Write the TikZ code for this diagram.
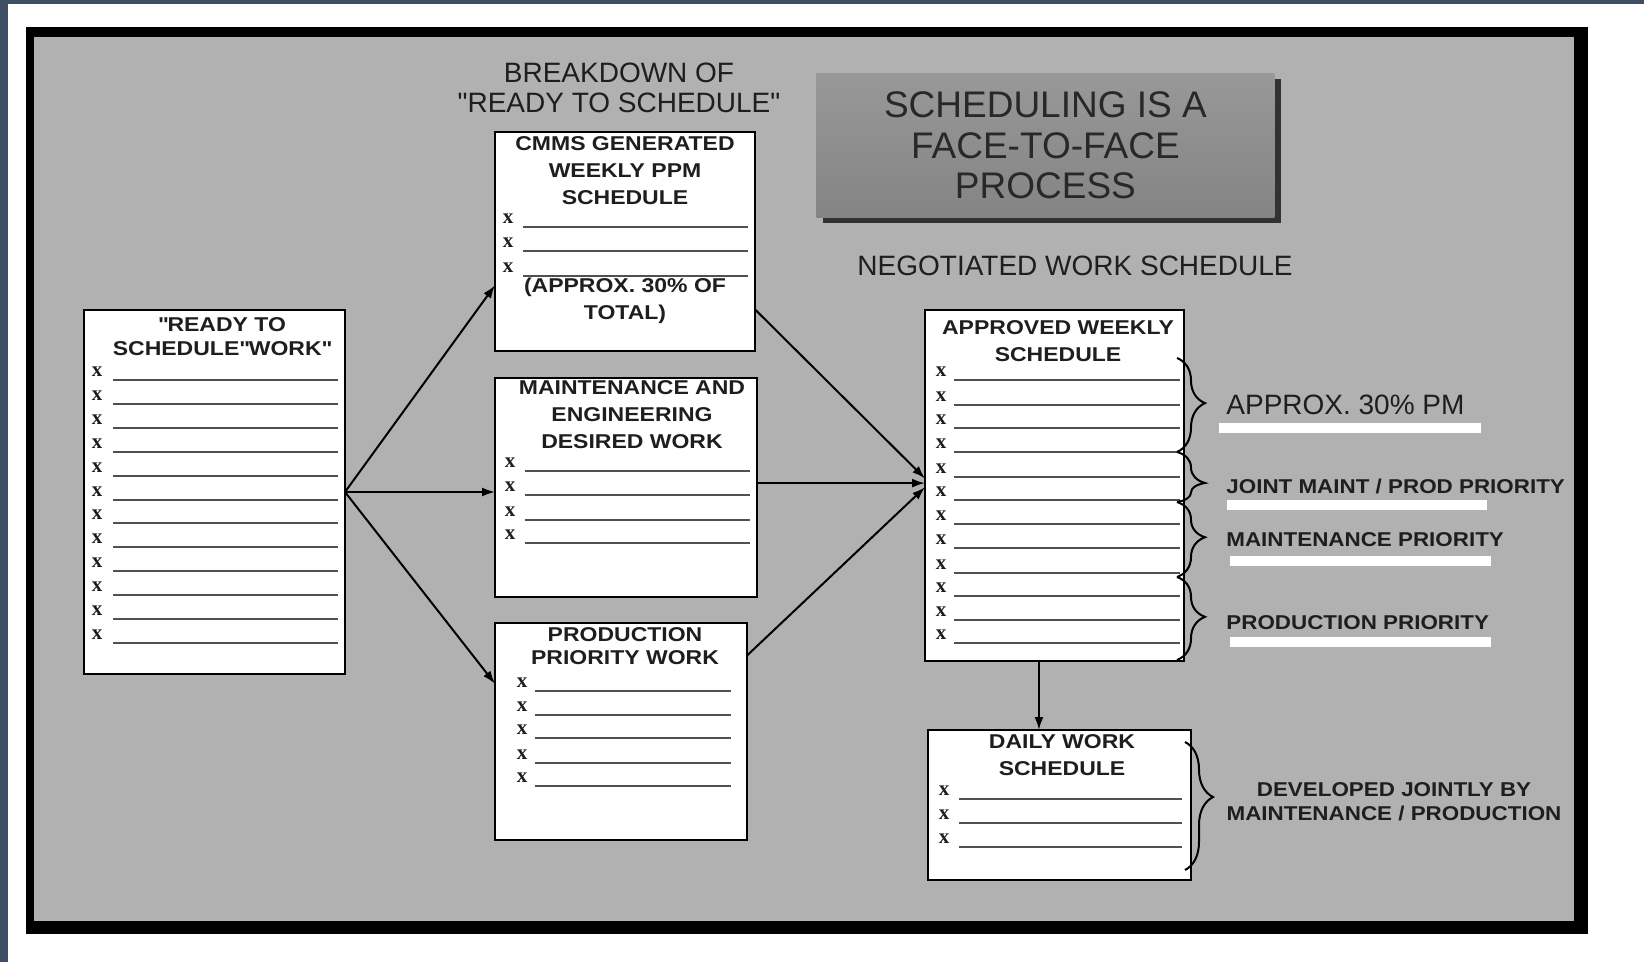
\documentclass[tikz,border=0pt]{standalone}
\usepackage{fontspec}
\setmainfont{Liberation Sans}
\newfontfamily\widefont{Liberation Sans}[FakeStretch=1.15]
\newfontfamily\notefont{Liberation Sans}[FakeStretch=1.12]
\newfontfamily\markfont{Liberation Serif}
\usetikzlibrary{arrows.meta,calc,decorations.pathreplacing,shadows}

\definecolor{slate}{RGB}{61,77,99}
\definecolor{panel}{RGB}{177,177,177}
\definecolor{ink}{RGB}{30,30,30}
\definecolor{rulegray}{RGB}{80,80,80}
\definecolor{bannertop}{RGB}{152,152,152}
\definecolor{bannerbottom}{RGB}{132,132,132}
\definecolor{bannershadow}{RGB}{50,50,50}

\tikzset{
  listbox/.style={draw=black, fill=white, line width=1.3pt, inner sep=0pt, outer sep=0pt, anchor=north west},
  boxtitle/.style={font=\widefont\bfseries\fontsize{10pt}{13.5pt}\selectfont, text=ink, align=center, inner sep=0pt},
  xmark/.style={font=\markfont\bfseries\fontsize{10.5pt}{10pt}\selectfont, text=ink, inner sep=0pt},
  itemline/.style={draw=rulegray, line width=1.1pt},
  flow/.style={draw=black, line width=1pt, -{Latex[length=6.5pt,width=4.5pt]}},
  curly/.style={draw=black, line width=1pt, decorate},
  sidenote/.style={font=\notefont\bfseries\fontsize{10pt}{12pt}\selectfont, text=ink, inner sep=0pt, anchor=west},
  heading/.style={font=\fontsize{14pt}{15pt}\selectfont, text=ink, align=center, inner sep=0pt},
  whitebar/.style={fill=white, draw=none},
}

% one row per entry: an "x" mark and the rule it sits on
\newcommand{\listitems}[5]{%
  \foreach \ly [count=\k] in {#5} {
    \node[xmark] (#1\k) at (#2,\ly-8) {x};
    \draw[itemline] (#3,\ly) -- (#4,\ly);
  }}

\begin{document}
\begin{tikzpicture}[x=0.5pt, y=-0.5pt]
\useasboundingbox (0,0) rectangle (1644,962);

% page and outer frame
\fill[white] (0,0) rectangle (1644,962);
\fill[slate] (0,0) rectangle (8,962);
\fill[slate] (0,0) rectangle (1644,4);
\fill[black] (26,27) rectangle (1588,934);
\fill[panel] (34,37) rectangle (1574,921);

% headings
\node[heading] (breakdown) at (619,88) {BREAKDOWN OF\\\textquotedbl READY TO SCHEDULE\textquotedbl};
\node[heading] (negotiated) at (1075,266) {NEGOTIATED WORK SCHEDULE};

% banner
\node[anchor=north west, minimum width=229pt, minimum height=72pt, inner sep=0pt,
      top color=bannertop, bottom color=bannerbottom, draw=none,
      drop shadow={shadow xshift=3.5pt, shadow yshift=-3pt, fill=bannershadow, opacity=1},
      font=\fontsize{18.5pt}{20.25pt}\selectfont, text={rgb,255:red,40;green,40;blue,40}, align=center]
  (banner) at (816,73) {SCHEDULING IS A\\FACE-TO-FACE\\PROCESS};

% list boxes
\node[listbox, minimum width=130.5pt, minimum height=182pt] (ready) at (84,310) {};
\node[listbox, minimum width=130pt, minimum height=109.5pt] (cmms) at (495,132) {};
\node[listbox, minimum width=131pt, minimum height=109.5pt] (maint) at (495,378) {};
\node[listbox, minimum width=126pt, minimum height=108.5pt] (prod) at (495,623) {};
\node[listbox, minimum width=129.5pt, minimum height=175.5pt] (approved) at (925,310) {};
\node[listbox, minimum width=131.5pt, minimum height=75pt] (daily) at (928,730) {};

% box titles
\node[boxtitle, font=\widefont\bfseries\fontsize{10pt}{12pt}\selectfont] (readytitle) at (222,337) {\textquotedbl READY TO\\SCHEDULE\textquotedbl WORK\textquotedbl};
\node[boxtitle] (cmmstitle) at (625,171) {CMMS GENERATED\\WEEKLY PPM\\SCHEDULE};
\node[boxtitle] (cmmsnote) at (625,301) {(APPROX. 30\% OF\\TOTAL)};
\node[boxtitle] (mainttitle) at (632,415) {MAINTENANCE AND\\ENGINEERING\\DESIRED WORK};
\node[boxtitle, font=\widefont\bfseries\fontsize{10pt}{11.5pt}\selectfont] (prodtitle) at (625,646) {PRODUCTION\\PRIORITY WORK};
\node[boxtitle] (apprtitle) at (1058,341) {APPROVED WEEKLY\\SCHEDULE};
\node[boxtitle] (dailytitle) at (1062,755) {DAILY WORK\\SCHEDULE};

% entries
\listitems{rx}{97}{113}{338}{380,404,428,452,476,500,523,547,571,595,619,643}
\listitems{cx}{508}{523}{748}{227,251,276}
\listitems{mx}{510}{525}{750}{471,495,520,543}
\listitems{px}{522}{535}{731}{691,715,738,763,786}
\listitems{ax}{941}{954}{1180}{380,405,428,452,477,500,524,548,573,596,620,643}
\listitems{dx}{944}{959}{1182}{799,823,847}

% flow of work
\draw[flow] (ready.east) -- ($(cmms.north west)!0.70!(cmms.south west)$);
\draw[flow] (ready.east) -- (ready.east -| maint.west);
\draw[flow] (ready.east) -- ($(prod.north west)!0.28!(prod.south west)$);
\draw[flow] ($(cmms.north east)!0.81!(cmms.south east)$) -- ($(approved.north west)!0.48!(approved.south west)$);
\coordinate (mout) at ($(maint.north east)!0.48!(maint.south east)$);
\draw[flow] (mout) -- (mout -| approved.west);
\draw[flow] ($(prod.north east)!0.15!(prod.south east)$) -- ($(approved.north west)!0.505!(approved.south west)$);
\coordinate (down) at ($(approved.south west)!0.44!(approved.south east)$);
\draw[flow] (down) -- (down |- daily.north);

% braces grouping the approved schedule
\coordinate (g1a) at (1177,358);  \coordinate (g1b) at (1177,452);
\coordinate (g2a) at (1177,452);  \coordinate (g2b) at (1177,502);
\coordinate (g3a) at (1177,502);  \coordinate (g3b) at (1177,577);
\coordinate (g4a) at (1177,577);  \coordinate (g4b) at (1177,660);
\coordinate (g5a) at (1185,742);  \coordinate (g5b) at (1185,870);
\draw[curly, decoration={brace, amplitude=14pt, aspect=0.48}] (g1a) -- (g1b);
\draw[curly, decoration={brace, amplitude=14pt, aspect=0.62}] (g2a) -- (g2b);
\draw[curly, decoration={brace, amplitude=14pt, aspect=0.47}] (g3a) -- (g3b);
\draw[curly, decoration={brace, amplitude=14pt, aspect=0.48}] (g4a) -- (g4b);
\draw[curly, decoration={brace, amplitude=14pt, aspect=0.43}] (g5a) -- (g5b);

% side notes
\fill[whitebar] (1219,423) rectangle (1481,433);
\fill[whitebar] (1227,500) rectangle (1487,510);
\fill[whitebar] (1230,556) rectangle (1491,566);
\fill[whitebar] (1230,637) rectangle (1491,647);
\node[anchor=west, inner sep=0pt, text=ink, font=\fontsize{14pt}{14pt}\selectfont] (pm) at (1226,405) {APPROX. 30\% PM};
\node[sidenote] (joint) at (1226,486) {JOINT MAINT / PROD PRIORITY};
\node[sidenote] (maintprio) at (1226,540) {MAINTENANCE PRIORITY};
\node[sidenote] (prodprio) at (1226,623) {PRODUCTION PRIORITY};
\node[sidenote, anchor=center, align=center] (jointly) at (1394,802) {DEVELOPED JOINTLY BY\\MAINTENANCE / PRODUCTION};
\end{tikzpicture}
\end{document}
